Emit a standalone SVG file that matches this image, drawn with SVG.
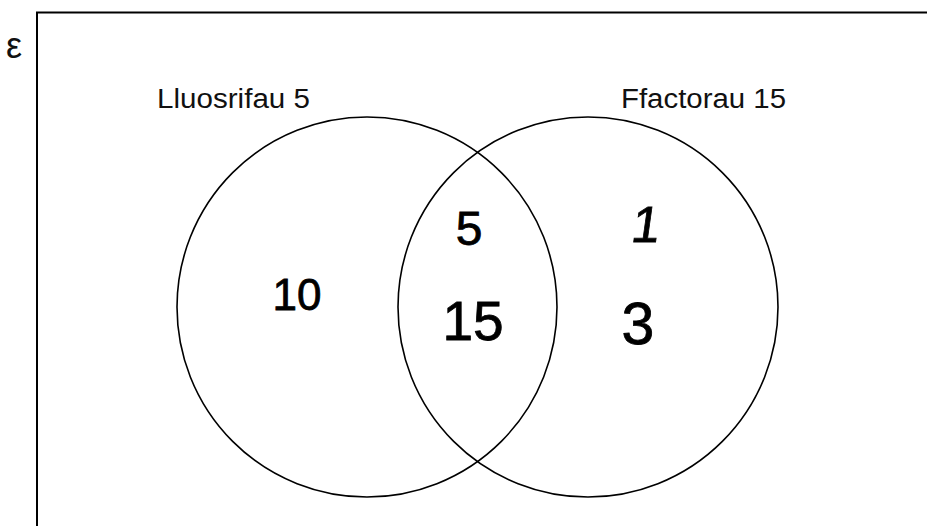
<svg xmlns="http://www.w3.org/2000/svg" width="927" height="526" viewBox="0 0 927 526">
  <style>
    .frame { fill: none; stroke: #000; stroke-width: 2; }
    .set { fill: none; stroke: #000; stroke-width: 1.6; }
    .label { font-family: "Liberation Sans", Arial, sans-serif; font-size: 27px; fill: #111; }
    .hand { font-family: "Liberation Sans", Arial, sans-serif; fill: #000; stroke: #000; stroke-width: 0.8; text-anchor: middle; }
  </style>
  <rect width="927" height="526" fill="#fff"/>
  <g id="universe">
    <rect class="frame" x="37" y="12.5" width="900" height="530"/>
    <text x="6" y="58" style="font-family: 'Liberation Sans', Arial, sans-serif; font-size: 36px; fill: #111;">ε</text>
  </g>
  <g id="set-lluosrifau">
    <circle class="set" cx="367" cy="307" r="190"/>
    <text class="label" x="157" y="108" textLength="153" lengthAdjust="spacingAndGlyphs">Lluosrifau 5</text>
  </g>
  <g id="set-ffactorau">
    <circle class="set" cx="588" cy="307" r="190"/>
    <text class="label" x="621" y="108" textLength="165" lengthAdjust="spacingAndGlyphs">Ffactorau 15</text>
  </g>
  <g id="region-only-lluosrifau">
    <text class="hand" x="297" y="310" font-size="44">10</text>
  </g>
  <g id="region-both">
    <text class="hand" x="469" y="245" font-size="48">5</text>
    <text class="hand" x="473" y="340" font-size="55">15</text>
  </g>
  <g id="region-only-ffactorau">
    <text class="hand" x="644" y="242" font-size="51" transform="translate(34 0) skewX(-8)">1</text>
    <text class="hand" x="638" y="344" font-size="59">3</text>
  </g>
  <g id="connectors"/>
</svg>
